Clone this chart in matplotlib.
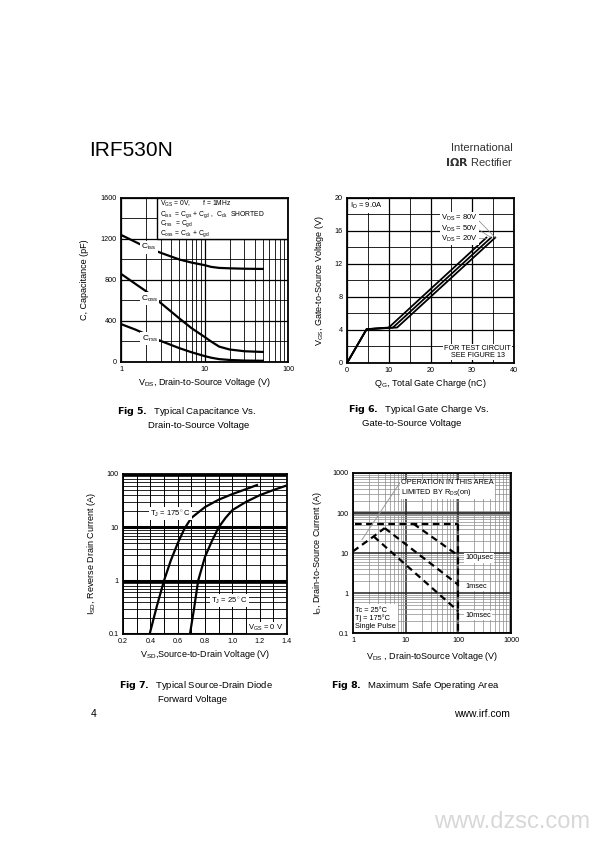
import numpy as np
import matplotlib
matplotlib.use('Agg')
import matplotlib.pyplot as plt
from matplotlib.ticker import FixedLocator, NullFormatter
from matplotlib.patches import Rectangle

plt.rcParams['font.family'] = ['Liberation Sans', 'DejaVu Sans']
plt.rcParams['mathtext.fontset'] = 'custom'
plt.rcParams['mathtext.rm'] = 'Liberation Sans'
plt.rcParams['mathtext.it'] = 'Liberation Sans'

# Fig 5 - capacitance vs VDS
vds_cap = [1, 1.5, 2, 3, 5, 7, 10, 12, 15, 20, 30, 50]
ciss = [1240, 1170, 1120, 1065, 1000, 970, 945, 928, 918, 914, 910, 908]
coss = [860, 760, 690, 575, 425, 330, 245, 200, 150, 122, 105, 98]
crss = [370, 315, 270, 205, 135, 95, 58, 42, 28, 20, 14, 12]

# Fig 6 - gate charge
qg_20 = [0, 4.7, 10.0, 33.4]
qg_50 = [0, 4.7, 11.0, 34.5]
qg_80 = [0, 4.7, 12.0, 35.5]
vgs_pts = [0, 4.1, 4.3, 15.2]

# Fig 7 - source-drain diode
vsd_175 = [0.395, 0.45, 0.5, 0.55, 0.6, 0.65, 0.7, 0.8, 0.9, 1.0, 1.1, 1.18]
isd_175 = [0.1, 0.35, 1.0, 2.4, 5.0, 9.5, 15, 24, 33, 42, 52, 62]
vsd_25 = [0.69, 0.72, 0.75, 0.8, 0.85, 0.9, 0.95, 1.0, 1.1, 1.2, 1.3, 1.39]
isd_25 = [0.1, 0.3, 1.0, 2.8, 5.5, 10, 15, 21, 30, 40, 50, 60]

# Fig 8 - SOA
soa_rise_v = [1, 2.47, 4.0]
soa_rise_i = [11, 26, 42]
soa_10ms_v = [2.47, 100]
soa_10ms_i = [26, 0.35]
soa_1ms_v = [4.0, 100]
soa_1ms_i = [42, 1.6]
soa_100us_v = [14, 100]
soa_100us_i = [54, 8.6]
soa_limit_i = 54
soa_limit_v = 100

fig = plt.figure(figsize=(6, 8.49), dpi=100)
W, H = 600, 849

def axes_px(l, t, r, b):
    return fig.add_axes([l / W, 1 - b / H, (r - l) / W, (b - t) / H])

def fig_txt(x, y, s, **kw):
    fig.text(x / W, 1 - y / H, s, **kw)

def style(ax):
    for sp in ax.spines.values():
        sp.set_linewidth(1.3)
        sp.set_zorder(5)
    ax.tick_params(which='both', length=0, labelsize=5.2, pad=3)
    ax.set_axisbelow(True)

box = dict(boxstyle='square,pad=0.15', fc='white', ec='none')

# ---------- Fig 5 ----------
ax5 = axes_px(121, 198, 288, 362)
ax5.set_xscale('log')
ax5.set_xlim(1, 100)
ax5.set_ylim(0, 1600)
ax5.set_xticks([1, 10, 100])
ax5.set_xticklabels(['1', '10', '100'])
ax5.set_yticks([0, 400, 800, 1200, 1600])
ax5.yaxis.set_minor_locator(FixedLocator(np.arange(200, 1600, 400)))
ax5.xaxis.set_minor_formatter(NullFormatter())
ax5.grid(which='major', color='black', lw=0.9)
ax5.grid(which='minor', color='black', lw=0.6)
style(ax5)
for y in (ciss, coss, crss):
    ax5.plot(vds_cap, y, color='black', lw=1.6)
ax5.text(2.15, 1120, r'C$_{\mathrm{iss}}$', fontsize=6, ha='center', va='center', bbox=box)
ax5.text(2.2, 620, r'C$_{\mathrm{oss}}$', fontsize=6, ha='center', va='center', bbox=box)
ax5.text(2.2, 230, r'C$_{\mathrm{rss}}$', fontsize=6, ha='center', va='center', bbox=box)
# condition box
ax5.add_patch(Rectangle((0.2165, 0.748), 0.7835, 0.252, transform=ax5.transAxes,
                        fc='white', ec='black', lw=1, zorder=3))
cond_lines = [
    'V$_{\\mathrm{GS}}$ = 0V,       f = 1MHz',
    'C$_{\\mathrm{iss}}$  = C$_{\\mathrm{gs}}$ + C$_{\\mathrm{gd}}$ ,  C$_{\\mathrm{ds}}$  SHORTED',
    'C$_{\\mathrm{rss}}$  = C$_{\\mathrm{gd}}$',
    'C$_{\\mathrm{oss}}$ = C$_{\\mathrm{ds}}$ + C$_{\\mathrm{gd}}$',
]
for k, s in enumerate(cond_lines):
    ax5.text(0.235, 0.993 - k * 0.059, s, transform=ax5.transAxes, fontsize=4.9,
             va='top', ha='left', zorder=4)
ax5.set_xlabel(r'V$_{\mathrm{DS}}$, Drain-to-Source Voltage (V)', fontsize=6.5, labelpad=2)
ax5.set_ylabel('C, Capacitance (pF)', fontsize=6.5, labelpad=8)

# ---------- Fig 6 ----------
ax6 = axes_px(347, 198, 514, 363)
ax6.set_xlim(0, 40)
ax6.set_ylim(0, 20)
ax6.set_xticks([0, 10, 20, 30, 40])
ax6.set_yticks([0, 4, 8, 12, 16, 20])
ax6.xaxis.set_minor_locator(FixedLocator([5, 15, 25, 35]))
ax6.yaxis.set_minor_locator(FixedLocator([2, 6, 10, 14, 18]))
ax6.grid(which='major', color='black', lw=0.9)
ax6.grid(which='minor', color='black', lw=0.6)
style(ax6)
for q in (qg_20, qg_50, qg_80):
    ax6.plot(q, vgs_pts, color='black', lw=1.3)
ax6.text(0.8, 19.6, r'I$_{\mathrm{D}}$ = 9.0A', fontsize=5.5, va='top', ha='left', bbox=box)
for i, (lab, q) in enumerate([('80V', qg_80), ('50V', qg_50), ('20V', qg_20)]):
    ty = 17.6 - i * 1.3
    ax6.text(22.5, ty, r'V$_{\mathrm{DS}}$ = ' + lab, fontsize=5.5, va='center', ha='left', bbox=box)
    ax6.plot([30.5, q[-1]], [ty + 0.2, vgs_pts[-1]], color='gray', lw=0.5)
ax6.text(39.3, 0.5, 'FOR TEST CIRCUIT\nSEE FIGURE 13', fontsize=5.2, va='bottom', ha='right',
         multialignment='center', linespacing=1.0, bbox=box)
ax6.set_xlabel(r'Q$_{\mathrm{G}}$, Total Gate Charge (nC)', fontsize=6.5, labelpad=2)
ax6.set_ylabel(r'V$_{\mathrm{GS}}$, Gate-to-Source Voltage (V)', fontsize=6.5, labelpad=6)

# ---------- Fig 7 ----------
ax7 = axes_px(123, 474, 287, 634)
ax7.set_yscale('log')
ax7.set_xlim(0.2, 1.4)
ax7.set_ylim(0.1, 100)
ax7.set_xticks(np.round(np.arange(0.2, 1.41, 0.2), 1))
ax7.set_xticklabels(['0.2', '0.4', '0.6', '0.8', '1.0', '1.2', '1.4'])
ax7.xaxis.set_minor_locator(FixedLocator(np.arange(0.3, 1.4, 0.2)))
ax7.set_yticks([0.1, 1, 10, 100])
ax7.set_yticklabels(['0.1', '1', '10', '100'])
ax7.yaxis.set_minor_formatter(NullFormatter())
ax7.grid(which='major', axis='y', color='black', lw=2.2)
ax7.grid(which='minor', axis='y', color='black', lw=0.6)
ax7.grid(which='both', axis='x', color='black', lw=0.7)
style(ax7)
ax7.plot(vsd_175, isd_175, color='black', lw=1.6)
ax7.plot(vsd_25, isd_25, color='black', lw=1.6)
ax7.text(0.55, 18, r'T$_{\mathrm{J}}$ = 175$^\circ$C', fontsize=5.5, ha='center', va='center', bbox=box)
ax7.text(0.98, 0.42, r'T$_{\mathrm{J}}$ = 25$^\circ$C', fontsize=5.5, ha='center', va='center', bbox=box)
ax7.text(1.37, 0.13, r'V$_{\mathrm{GS}}$ = 0 V', fontsize=5.5, ha='right', va='center', bbox=box)
ax7.set_xlabel(r'V$_{\mathrm{SD}}$,Source-to-Drain Voltage (V)', fontsize=6.5, labelpad=2)
ax7.set_ylabel(r'I$_{\mathrm{SD}}$, Reverse Drain Current (A)', fontsize=6.5, labelpad=6)

# ---------- Fig 8 ----------
ax8 = axes_px(353, 473, 511, 633)
ax8.set_xscale('log')
ax8.set_yscale('log')
ax8.set_xlim(1, 1000)
ax8.set_ylim(0.1, 1000)
ax8.set_xticks([1, 10, 100, 1000])
ax8.set_xticklabels(['1', '10', '100', '1000'])
ax8.set_yticks([0.1, 1, 10, 100, 1000])
ax8.set_yticklabels(['0.1', '1', '10', '100', '1000'])
ax8.xaxis.set_minor_formatter(NullFormatter())
ax8.yaxis.set_minor_formatter(NullFormatter())
ax8.grid(which='major', color='#222222', lw=1.1)
ax8.grid(which='minor', color='#8a8a8a', lw=0.5)
ax8.axhline(100, color='#999999', lw=3.5, zorder=0.5)
style(ax8)
dash = dict(color='black', lw=1.6, ls=(0, (3, 2)))
ax8.plot(soa_rise_v, soa_rise_i, **dash)
ax8.plot(soa_10ms_v, soa_10ms_i, **dash)
ax8.plot(soa_1ms_v, soa_1ms_i, **dash)
ax8.plot(soa_100us_v, soa_100us_i, **dash)
ax8.plot([1.1, soa_limit_v], [soa_limit_i, soa_limit_i], **dash)
ax8.plot([soa_limit_v, soa_limit_v], [soa_limit_i, 0.1], **dash)
ax8.plot([1.48, 7.7], [21.5, 560], color='#999999', lw=0.7)
ax8.text(8.3, 700, 'OPERATION IN THIS AREA\nLIMITED BY R$_{\\mathrm{DS}}$(on)', fontsize=5.3,
         va='top', ha='left', linespacing=1.1, bbox=box)
ax8.text(135, 7.5, '100µsec', fontsize=5.3, va='center', ha='left', bbox=box)
ax8.text(135, 1.45, '1msec', fontsize=5.3, va='center', ha='left', bbox=box)
ax8.text(135, 0.28, '10msec', fontsize=5.3, va='center', ha='left', bbox=box)
ax8.text(1.08, 0.12, 'Tc = 25°C\nTj = 175°C\nSingle Pulse', fontsize=5.3, va='bottom', ha='left',
         linespacing=1.15, bbox=dict(boxstyle='square,pad=0.3', fc='white', ec='none'))
ax8.set_xlabel(r'V$_{\mathrm{DS}}$ , Drain-toSource Voltage (V)', fontsize=6.5, labelpad=4)
ax8.set_ylabel(r'I$_{\mathrm{D}}$, Drain-to-Source Current (A)', fontsize=6.5, labelpad=6)

# ---------- page texts ----------
fig_txt(89, 150, 'IRF530N', fontsize=15, va='center', ha='left')
fig_txt(513, 148, 'International', fontsize=8, va='center', ha='right', color='#333333')
fig_txt(513, 162, r'$\mathbf{I\Omega R}$ Rectifier', fontsize=8, va='center', ha='right', color='#333333')

fig_txt(117, 411, r'$\mathbf{Fig\ 5.}$  Typical Capacitance Vs.', fontsize=6.8, ha='left', va='center')
fig_txt(199, 425, 'Drain-to-Source Voltage', fontsize=6.8, ha='center', va='center')
fig_txt(348, 410, r'$\mathbf{Fig\ 6.}$  Typical Gate Charge Vs.', fontsize=6.8, ha='left', va='center')
fig_txt(412, 424, 'Gate-to-Source Voltage', fontsize=6.8, ha='center', va='center')
fig_txt(119, 686, r'$\mathbf{Fig\ 7.}$  Typical Source-Drain Diode', fontsize=6.8, ha='left', va='center')
fig_txt(193, 699, 'Forward Voltage', fontsize=6.8, ha='center', va='center')
fig_txt(331, 686, r'$\mathbf{Fig\ 8.}$  Maximum Safe Operating Area', fontsize=6.8, ha='left', va='center')
fig_txt(94, 714, '4', fontsize=7.5, ha='center', va='center')
fig_txt(510, 714, 'www.irf.com', fontsize=7.5, ha='right', va='center')
fig_txt(590, 822, 'www.dzsc.com', fontsize=17, ha='right', va='center', color='#d8d8d8')

fig.savefig('out.png', dpi=100)
